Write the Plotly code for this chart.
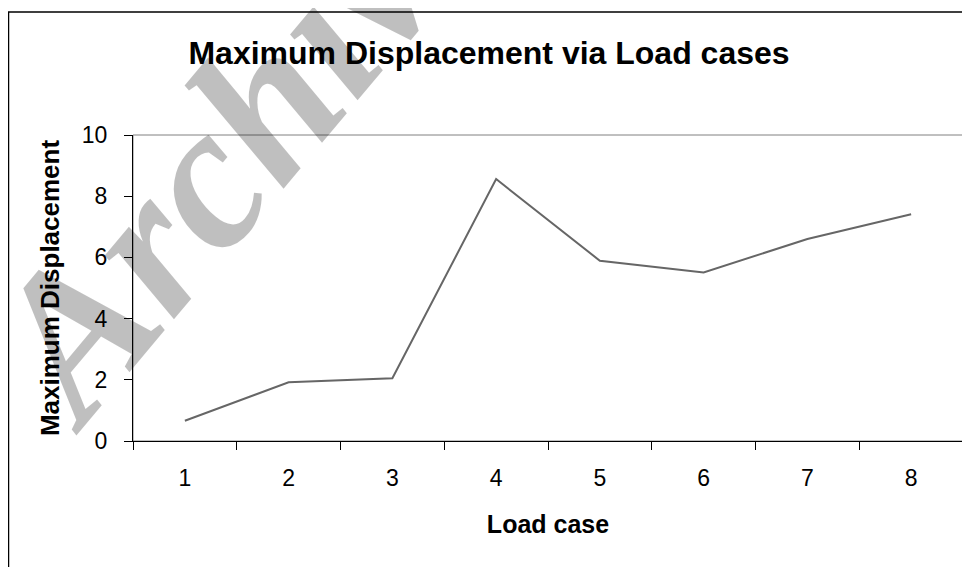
import plotly.graph_objects as go

categories = ["1", "2", "3", "4", "5", "6", "7", "8"]
displacement = [0.66, 1.92, 2.05, 8.56, 5.89, 5.51, 6.6, 7.41]
y_ticks = [0, 2, 4, 6, 8, 10]

FONT = "Arial, 'Liberation Sans', sans-serif"

# page body adds an 8px offset; work in figure coordinates
OFF = 8
W, H = 970 - OFF, 567 - OFF
L, R, T, B = 133 - OFF, 963 - OFF, 135 - OFF, 441 - OFF
pw, ph = R - L, B - T

fig = go.Figure()
fig.add_trace(go.Scatter(
    x=categories, y=displacement, mode="lines",
    line=dict(color="#666666", width=2), showlegend=False,
))

fig.update_layout(
    width=W, height=H,
    margin=dict(l=L, r=W - R, t=T, b=H - B),
    paper_bgcolor="white", plot_bgcolor="white",
    font=dict(family=FONT, color="black"),
    title=dict(text="<b>Maximum Displacement via Load cases</b>",
               x=0.5, xanchor="center", y=1 - (53 - OFF) / H, yanchor="middle",
               font=dict(size=32, family=FONT, color="black")),
    xaxis=dict(type="category", tickson="boundaries", ticks="outside",
               range=[-0.5, 7.5], automargin=False,
               ticklen=8, tickcolor="black", tickwidth=1,
               showline=True, linecolor="black", linewidth=1,
               showgrid=False, zeroline=False,
               ticklabelstandoff=16,
               tickfont=dict(size=23, family=FONT),
               title=dict(text="<b>Load case</b>", font=dict(size=25, family=FONT), standoff=25)),
    yaxis=dict(range=[0, 10], tickvals=y_ticks, ticks="outside", automargin=False,
               ticklen=8, tickcolor="black", tickwidth=1,
               showline=True, linecolor="black", linewidth=1,
               showgrid=False, zeroline=False,
               ticklabelstandoff=12,
               tickfont=dict(size=23, family=FONT),
               title=dict(text="<b>Maximum Displacement</b>", font=dict(size=26, family=FONT), standoff=14)),
    shapes=[
        dict(type="rect", xref="paper", yref="paper", x0=0, x1=1, y0=0, y1=1,
             line=dict(color="#808080", width=1), layer="below"),
        dict(type="rect", xref="paper", yref="paper",
             x0=(8 - OFF + 0.5 - L) / pw, x1=(W + 5 - L) / pw,
             y0=(B - H - 5) / ph, y1=(B - (12 - OFF)) / ph,
             line=dict(color="black", width=1.5), layer="below"),
    ],
    annotations=[
        dict(text="<b><i>Archive</i></b>", xref="paper", yref="paper",
             x=(230 - L) / pw, y=(B - 126) / ph,
             xanchor="center", yanchor="middle", showarrow=False,
             textangle=-50,
             font=dict(size=205, family="'Liberation Serif', 'Times New Roman', serif",
                       color="rgba(0,0,0,0.25)")),
    ],
)

fig.write_html("out.html")
